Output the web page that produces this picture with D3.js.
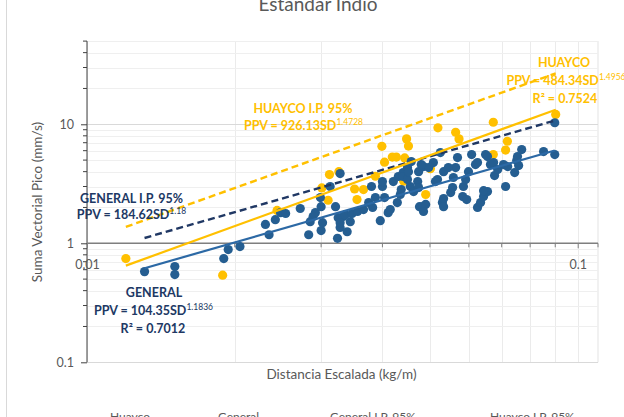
<!DOCTYPE html>
<html>
<head>
<meta charset="utf-8">
<script src="https://cdn.jsdelivr.net/npm/d3@7"></script>
<style>
  html, body { margin: 0; padding: 0; background: #fff; overflow: hidden; }
  svg { display: block; font-family: Lato, "Open Sans", sans-serif; }
</style>
</head>
<body>
<svg id="chart" width="624" height="417"></svg>
<script>
// Scaled distance SD (kg/m) and peak vector sum PPV (mm/s), Huayco records
const huaycoPoints = [
  [0.0120, 0.744], [0.0189, 0.54], [0.0244, 1.89], [0.0301, 2.92], [0.0310, 2.30],
  [0.0312, 3.78], [0.0326, 4.00], [0.0351, 2.86], [0.0366, 2.83], [0.0387, 3.66],
  [0.0399, 6.53], [0.0404, 4.80], [0.0419, 5.30], [0.0427, 5.30], [0.0444, 5.22],
  [0.0448, 7.54], [0.0452, 6.56], [0.0442, 3.32], [0.0501, 4.24], [0.0490, 2.57],
  [0.0519, 9.33], [0.0564, 8.57], [0.0573, 7.54], [0.0673, 10.4], [0.0673, 5.56],
  [0.0719, 7.20], [0.0713, 6.07], [0.0902, 12.1], [0.0355, 2.33]
];

// General records
const generalPoints = [
  [0.0131, 0.578], [0.0151, 0.637], [0.0151, 0.546], [0.0190, 0.744], [0.0194, 0.885],
  [0.0205, 0.938], [0.0231, 1.44], [0.0235, 1.18], [0.0242, 1.58], [0.0248, 1.81],
  [0.0254, 1.78], [0.0272, 1.96], [0.0283, 1.18], [0.0285, 1.52], [0.0292, 1.81],
  [0.0300, 1.28], [0.0300, 2.03], [0.0289, 1.68], [0.0302, 1.49], [0.0299, 2.42],
  [0.0313, 3.00], [0.0328, 3.85], [0.0321, 2.03], [0.0324, 1.10], [0.0328, 1.36],
  [0.0339, 1.25], [0.0333, 1.68], [0.0325, 1.64], [0.0336, 1.74], [0.0328, 1.49],
  [0.0347, 1.78], [0.0356, 1.85], [0.0366, 1.92], [0.0375, 2.20], [0.0382, 2.00],
  [0.0387, 2.42], [0.0396, 1.55], [0.0411, 1.81], [0.0380, 3.00], [0.0400, 3.00],
  [0.0404, 2.42], [0.0421, 3.30], [0.0431, 3.64], [0.0441, 3.93], [0.0450, 4.33],
  [0.0458, 4.86], [0.0474, 4.00], [0.0435, 2.57], [0.0429, 2.20], [0.0456, 3.00],
  [0.0472, 3.30], [0.0476, 2.03], [0.0344, 1.52], [0.0415, 1.92], [0.0400, 3.30],
  [0.0437, 2.83], [0.0441, 3.64], [0.0450, 3.43], [0.0452, 4.00], [0.0463, 2.72],
  [0.0474, 2.94], [0.0483, 2.03], [0.0485, 4.41], [0.0490, 2.12], [0.0497, 4.33],
  [0.0508, 4.77], [0.0518, 3.43], [0.0530, 2.20], [0.0533, 2.38], [0.0533, 4.00],
  [0.0551, 2.67], [0.0556, 2.94], [0.0558, 3.57], [0.0564, 4.33], [0.0569, 5.25],
  [0.0583, 2.47], [0.0585, 3.00], [0.0591, 3.43], [0.0599, 4.00], [0.0608, 5.57],
  [0.0619, 4.59], [0.0625, 2.00], [0.0634, 2.20], [0.0643, 2.47], [0.0655, 2.72],
  [0.0649, 5.57], [0.0664, 4.59], [0.0677, 3.71], [0.0720, 4.41], [0.0713, 3.00],
  [0.0744, 3.93], [0.0751, 4.96], [0.0754, 5.35], [0.0769, 6.13], [0.0852, 5.90],
  [0.0898, 5.57], [0.0898, 10.3], [0.0525, 5.79], [0.0545, 4.33], [0.0485, 1.85],
  [0.0533, 2.03], [0.0594, 2.33], [0.0625, 4.77], [0.0655, 5.35], [0.0674, 4.77],
  [0.0687, 4.16], [0.0643, 2.77], [0.0706, 4.59], [0.0758, 4.50], [0.0513, 3.30],
  [0.0480, 4.59]
];

// Power-law fits PPV = a * SD^b
const fitNames = ["GENERAL", "HUAYCO", "GENERAL I.P. 95%", "HUAYCO I.P. 95%"];
const fitA = [104.35, 484.34, 184.62, 926.13];
const fitB = ["1.1836", "1.4956", "1.18", "1.4728"];
const fitR2 = ["0.7012", "0.7524"];

const xTickLabels = ["0.01", "0.1"];
const yTickLabels = ["0.1", "1", "10"];
const legendNames = ["Huayco", "General", "General I.P. 95%", "Huayco I.P. 95%"];

const GOLD = "#FFC000", BLUE = "#255E91", NAVY = "#203864", GREY = "#595959";

const svg = d3.select("#chart");
const x = d3.scaleLog().domain([0.01, 0.11]).range([87, 598]);
const y = d3.scaleLog().domain([0.1, 50]).range([362.3, 41.1]);

// chart border at left
svg.append("line").attr("x1", 6.5).attr("x2", 6.5).attr("y1", 0).attr("y2", 417)
  .attr("stroke", "#D9D9D9").attr("stroke-width", 1);

// title, partly above the top edge
svg.append("text").attr("x", 318).attr("y", 11).attr("text-anchor", "middle")
  .attr("font-size", 19).attr("fill", GREY).text("Estandar Indio");

// gridlines
const xGridVals = d3.range(1, 11).map(k => +(k * 0.01).toFixed(2));
const yMinor = [0.2,0.3,0.4,0.5,0.6,0.7,0.8,0.9,2,3,4,5,6,7,8,9,20,30,40,50];
const yMajor = [0.1, 10];
const grid = svg.append("g");
grid.selectAll(".vg").data(xGridVals).join("line")
  .attr("x1", d => Math.round(x(d)) + 0.5).attr("x2", d => Math.round(x(d)) + 0.5)
  .attr("y1", y(50)).attr("y2", y(0.1))
  .attr("stroke", "#EBEBEB").attr("stroke-width", 1);
grid.append("line").attr("x1", x(0.11)).attr("x2", x(0.11)).attr("y1", y(50)).attr("y2", y(0.1))
  .attr("stroke", "#E3E3E3");
grid.selectAll(".hm").data(yMinor).join("line")
  .attr("x1", x(0.01)).attr("x2", x(0.11))
  .attr("y1", d => Math.round(y(d)) + 0.5).attr("y2", d => Math.round(y(d)) + 0.5)
  .attr("stroke", "#EFEFEF").attr("stroke-width", 1);
grid.selectAll(".hM").data(yMajor).join("line")
  .attr("x1", x(0.01)).attr("x2", x(0.11))
  .attr("y1", d => Math.round(y(d)) + 0.5).attr("y2", d => Math.round(y(d)) + 0.5)
  .attr("stroke", "#D9D9D9").attr("stroke-width", 1);

// y axis at SD = 0.01
const yAxis = d3.axisLeft(y).tickValues([0.1, 1, 10]).tickFormat((d, i) => yTickLabels[i])
  .tickSize(6).tickPadding(7);
const gy = svg.append("g").attr("transform", `translate(${x(0.01)},0)`).call(yAxis);
gy.select(".domain").attr("stroke", "#404040").attr("d", `M0,${y(50)}V${y(0.1)}`);
gy.selectAll(".tick line").attr("stroke", "#404040");
gy.selectAll(".tick text").attr("font-size", 12.5).attr("fill", GREY)
  .attr("font-family", "Lato, sans-serif");
gy.selectAll(".minor").data(yMinor).join("line").attr("class", "minor")
  .attr("x1", -4).attr("x2", 0).attr("y1", d => y(d)).attr("y2", d => y(d))
  .attr("stroke", "#404040");

// x axis crossing at PPV = 1
const xAxis = d3.axisBottom(x).tickValues([0.01, 0.1]).tickFormat((d, i) => xTickLabels[i])
  .tickSize(5).tickPadding(12);
const gx = svg.append("g").attr("transform", `translate(0,${y(1)})`).call(xAxis);
gx.select(".domain").attr("stroke", "#7F7F7F").attr("stroke-width", 1.5)
  .attr("d", `M${x(0.01)},0H${x(0.11)}`);
gx.selectAll(".tick line").attr("stroke", "#7F7F7F");
gx.selectAll(".tick text").attr("font-size", 12.5).attr("fill", GREY)
  .attr("font-family", "Lato, sans-serif");
gx.selectAll(".minor").data(xGridVals.slice(1, 9).concat([0.11])).join("line").attr("class", "minor")
  .attr("x1", d => x(d)).attr("x2", d => x(d)).attr("y1", 0).attr("y2", 4)
  .attr("stroke", "#7F7F7F");

// axis titles
svg.append("text").attr("x", 341.5).attr("y", 378.5).attr("text-anchor", "middle")
  .attr("font-size", 13.5).attr("fill", GREY).text("Distancia Escalada (kg/m)");
svg.append("text").attr("transform", "translate(41.5,202) rotate(-90)").attr("text-anchor", "middle")
  .attr("font-size", 13.5).attr("fill", GREY).text("Suma Vectorial Pico (mm/s)");

// markers
const R = 4.6;
svg.append("g").selectAll("circle").data(huaycoPoints).join("circle")
  .attr("cx", d => x(d[0])).attr("cy", d => y(d[1])).attr("r", R).attr("fill", GOLD);
svg.append("g").selectAll("circle").data(generalPoints).join("circle")
  .attr("cx", d => x(d[0])).attr("cy", d => y(d[1])).attr("r", R).attr("fill", BLUE);

// fitted lines, drawn over the extent of each record set
const genExt = d3.extent(generalPoints, d => d[0]);
const huaExt = d3.extent(huaycoPoints, d => d[0]);
const fitSpecs = [
  { i: 2, ext: genExt, color: NAVY, dash: "7,4", w: 2.4 },
  { i: 3, ext: huaExt, color: GOLD, dash: "7,4", w: 2.4 },
  { i: 0, ext: genExt, color: "#2C69A5", dash: null, w: 2.2 },
  { i: 1, ext: huaExt, color: GOLD, dash: null, w: 2.2 }
];
const line = d3.line().x(d => x(d[0])).y(d => y(d[1]));
fitSpecs.forEach(s => {
  const pts = s.ext.map(sd => [sd, fitA[s.i] * Math.pow(sd, +fitB[s.i])]);
  svg.append("path").attr("d", line(pts)).attr("fill", "none")
    .attr("stroke", s.color).attr("stroke-width", s.w)
    .attr("stroke-dasharray", s.dash);
});

// equation labels
const LBL = 12.5;
function eqText(cx, by, i, color) {
  const t = svg.append("text").attr("x", cx).attr("y", by).attr("text-anchor", "middle")
    .attr("font-size", LBL).attr("font-weight", "bold").attr("fill", color);
  t.append("tspan").text(`PPV = ${fitA[i].toFixed(2)}SD`);
  t.append("tspan").attr("dy", -5).attr("font-size", 8.5).attr("font-weight", "normal").text(fitB[i]);
}
function plainText(cx, by, str, color) {
  svg.append("text").attr("x", cx).attr("y", by).attr("text-anchor", "middle")
    .attr("font-size", LBL).attr("font-weight", "bold").attr("fill", color).text(str);
}
plainText(131.5, 202.7, fitNames[2], NAVY);
eqText(131.5, 219.3, 2, NAVY);
plainText(154, 296.7, fitNames[0], NAVY);
eqText(153.5, 314.7, 0, NAVY);
plainText(153, 332.5, `R² = ${fitR2[0]}`, NAVY);
plainText(303, 113.3, fitNames[3], GOLD);
eqText(303.5, 130, 3, GOLD);
plainText(564, 67, fitNames[1], GOLD);
eqText(566, 85, 1, GOLD);
plainText(565, 103.3, `R² = ${fitR2[1]}`, GOLD);

// legend along the bottom edge
const legX = [110, 218, 330, 490];
const lg = svg.append("g");
legendNames.forEach((name, i) => {
  const tx = legX[i];
  if (i < 2) {
    lg.append("circle").attr("cx", tx - 9).attr("cy", 422).attr("r", 4).attr("fill", i === 0 ? GOLD : BLUE);
  } else {
    lg.append("line").attr("x1", tx - 30).attr("x2", tx - 6).attr("y1", 422).attr("y2", 422)
      .attr("stroke", i === 2 ? NAVY : GOLD).attr("stroke-width", 2.4).attr("stroke-dasharray", "7,4");
  }
  lg.append("text").attr("x", tx).attr("y", 421).attr("font-size", 12).attr("fill", GREY).text(name);
});
</script>
</body>
</html>
